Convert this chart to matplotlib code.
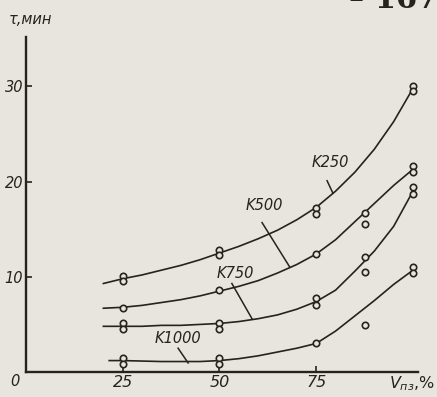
import matplotlib
matplotlib.use("Agg")
import matplotlib.pyplot as plt
from matplotlib import font_manager

# values
curve_x = [20, 25, 30, 35, 40, 45, 50, 55, 60, 65, 70, 75, 80, 85, 90, 95, 100]
k250_curve = [9.3, 9.8, 10.2, 10.7, 11.2, 11.8, 12.5, 13.2, 14.0, 14.9, 16.0, 17.3, 19.0, 21.0, 23.4, 26.3, 29.8]
k500_curve = [6.7, 6.8, 7.0, 7.3, 7.6, 8.0, 8.5, 9.0, 9.6, 10.4, 11.3, 12.4, 13.9, 15.8, 17.7, 19.6, 21.3]
k750_curve = [4.8, 4.8, 4.8, 4.9, 4.9, 5.0, 5.1, 5.3, 5.6, 6.0, 6.6, 7.4, 8.6, 10.6, 12.7, 15.3, 19.0]
k1000_x = [21.5, 25, 30, 35, 40, 45, 50, 55, 60, 65, 70, 75, 80, 85, 90, 95, 100]
k1000_curve = [1.2, 1.2, 1.15, 1.1, 1.1, 1.1, 1.2, 1.4, 1.7, 2.1, 2.5, 3.0, 4.3, 5.9, 7.5, 9.2, 10.7]

# measured points (open circles)
k250_mx = [25, 25, 50, 50, 75, 75, 100, 100]
k250_my = [10.1, 9.55, 12.85, 12.3, 17.2, 16.6, 30.1, 29.5]
k500_mx = [25, 50, 75, 87.5, 87.5, 100, 100]
k500_my = [6.7, 8.6, 12.4, 16.7, 15.5, 21.6, 21.0]
k750_mx = [25, 25, 50, 50, 75, 75, 87.5, 87.5, 100, 100]
k750_my = [5.1, 4.5, 5.2, 4.5, 7.8, 7.0, 12.1, 10.5, 19.4, 18.7]
k1000_mx = [25, 25, 50, 50, 75, 87.5, 100, 100]
k1000_my = [1.5, 0.8, 1.5, 0.8, 3.0, 4.9, 11.0, 10.4]

curve_names = ["K250", "K500", "K750", "K1000"]
x_ticks = [25, 50, 75]
y_ticks = [10, 20, 30]

paper = "#e8e5de"
ink = "#26221d"

have = {f.name for f in font_manager.fontManager.ttflist}
fam = ["Liberation Sans Narrow", "DejaVu Sans"] if "Liberation Sans Narrow" in have else ["DejaVu Sans"]
fs = 12 if len(fam) == 2 else 10.5

fig = plt.figure(figsize=(4.37, 3.97), dpi=100, facecolor=paper)
ax = fig.add_axes([26 / 437, 25 / 397, 392 / 437, 335 / 397])
ax.set_facecolor(paper)

curves = [(curve_x, k250_curve, k250_mx, k250_my),
          (curve_x, k500_curve, k500_mx, k500_my),
          (curve_x, k750_curve, k750_mx, k750_my),
          (k1000_x, k1000_curve, k1000_mx, k1000_my)]
for cx, cy, mx, my in curves:
    ax.plot(cx, cy, color=ink, lw=1.2, zorder=2)
    ax.plot(mx, my, ls="none", marker="o", ms=4.6, mfc=paper, mec=ink, mew=1.2, zorder=3)

# curve labels with leader lines
lab_pos = [(78.6, 22.0), (61.5, 17.5), (54.0, 10.4), (39.3, 3.5)]
leaders = [((77.8, 79.3), (20.1, 18.8)),
           ((61.0, 68.2), (15.7, 11.0)),
           ((53.2, 58.4), (9.3, 5.6)),
           ((39.3, 41.9), (2.5, 0.95))]
for name, (lx, ly), (llx, lly) in zip(curve_names, lab_pos, leaders):
    ax.text(lx, ly, name, ha="center", va="center", fontsize=fs, style="italic",
            family=fam, color=ink)
    ax.plot(llx, lly, color=ink, lw=1.1)

ax.set_xlim(0, 101.3)
ax.set_ylim(0, 35.2)
for s in ["top", "right"]:
    ax.spines[s].set_visible(False)
for s in ["left", "bottom"]:
    ax.spines[s].set_color(ink)
    ax.spines[s].set_linewidth(1.7)
ax.set_xticks(x_ticks)
ax.set_yticks(y_ticks)
ax.set_xticklabels([str(t) for t in x_ticks], fontsize=fs + 1, style="italic", family=fam, color=ink)
ax.set_yticklabels([str(t) for t in y_ticks], fontsize=fs, style="italic", family=fam, color=ink)
ax.tick_params(direction="in", length=4, width=1.2, color=ink, pad=2)

fig.text(15 / 437, 1 - 382 / 397, "0", ha="center", va="center", fontsize=fs, style="italic",
         family=fam, color=ink)
fig.text(9 / 437, 1 - 20 / 397, "τ,мин", ha="left", va="center", fontsize=fs,
         style="italic", family=fam, color=ink)
fig.text(389 / 437, 1 - 384 / 397, "$V_{пз}$,%", ha="left", va="center", fontsize=fs + 1,
         family=fam, color=ink)
# page number, cut off at the top edge of the scan
fig.text(0.9, 1.0, "– 167", ha="center", va="center", fontsize=22, weight="bold",
         family="DejaVu Serif", color=ink)

fig.savefig("out.png", dpi=100, facecolor=paper)
